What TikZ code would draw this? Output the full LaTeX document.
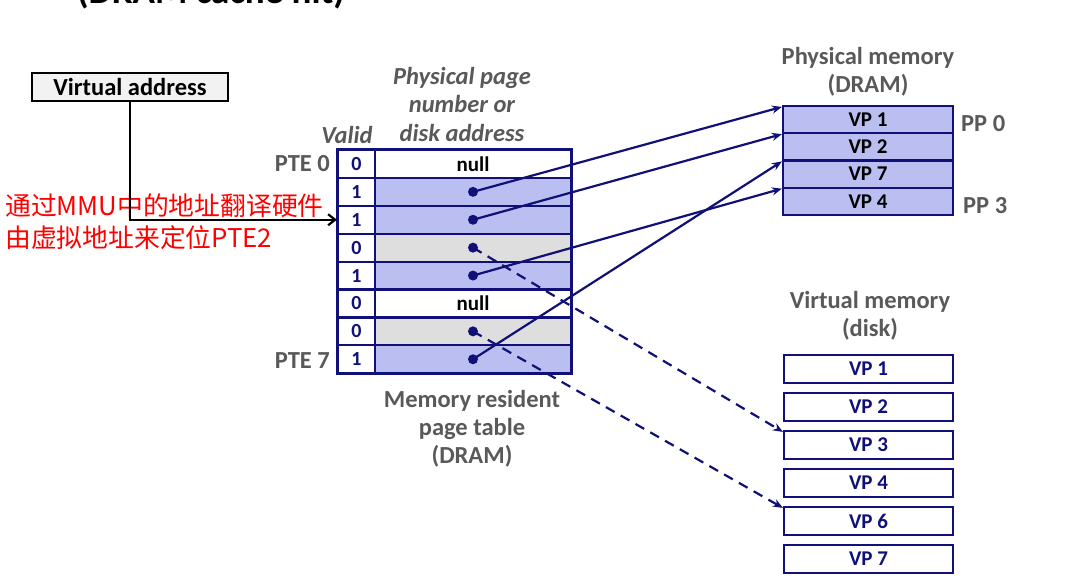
\documentclass[tikz,border=0pt]{standalone}
\usepackage{fontspec}
\setmainfont{Carlito}
\newfontfamily\cjk{Noto Sans CJK SC}
\usetikzlibrary{arrows.meta}
\definecolor{navy}{RGB}{16,16,120}
\definecolor{lav}{RGB}{187,190,240}
\definecolor{lgray}{RGB}{222,222,222}
\definecolor{tgray}{RGB}{89,89,89}
\definecolor{vafill}{RGB}{242,242,242}
\tikzset{
  cell/.style={draw=navy,line width=2.2pt,rectangle,inner sep=0pt,anchor=center},
  vcell/.style={cell,fill=white,minimum width=37pt,minimum height=27.9pt,text=navy,font=\fontsize{20}{20}\selectfont\bfseries},
  dcell/.style={cell,minimum width=196pt,minimum height=27.9pt,font=\fontsize{21}{21}\selectfont\bfseries},
  pmcell/.style={cell,fill=lav,minimum width=170pt,minimum height=27.25pt,font=\fontsize{21}{21}\selectfont\bfseries},
  dkcell/.style={cell,fill=white,minimum width=169pt,minimum height=28pt,text=navy,font=\fontsize{21}{21}\selectfont\bfseries},
  glabel/.style={text=tgray,font=\fontsize{24.5}{28}\selectfont\bfseries,align=center,inner sep=0pt},
  ilabel/.style={glabel,font=\fontsize{24.5}{28.5}\selectfont\bfseries\itshape},
  pdot/.style={circle,fill=navy,inner sep=0pt,minimum size=10pt},
  conn/.style={navy,line width=2.2pt,-{Stealth[length=10pt,width=8pt]}},
  dconn/.style={conn,dash pattern=on 10pt off 7pt},
}
\begin{document}
\begin{tikzpicture}[x=1pt,y=-1pt]
\useasboundingbox[fill=white] (0,0) rectangle (1082,583);
% cut-off title
\node[anchor=base,font=\fontsize{37}{37}\selectfont\bfseries,inner sep=0pt] (title) at (211,4) {(DRAM cache hit)};
% virtual address box
\node[draw=black,line width=1.8pt,fill=vafill,minimum width=196pt,minimum height=28pt,inner sep=0pt,font=\fontsize{24.5}{24.5}\selectfont\bfseries] (va) at (130,87) {Virtual address};
% red annotation
\node[anchor=west,text=red,font=\cjk\fontsize{25.8}{32}\selectfont,align=left,inner sep=0pt] (note) at (5,222) {通过MMU中的地址翻译硬件\\由虚拟地址来定位PTE2};
% page table
\foreach \i/\v/\f in {0/0/white,1/1/lav,2/1/lav,3/0/lgray,4/1/lav,5/0/white,6/0/lgray,7/1/lav}{
  \node[vcell] (v\i) at (356.5,{150+27.9*(\i+0.5)}) {\v};
  \node[dcell,fill=\f] (d\i) at (473,{150+27.9*(\i+0.5)}) {};
}
\draw[navy,line width=2.2pt] (v0.north west) rectangle (d7.south east);
\node[font=\fontsize{21}{21}\selectfont\bfseries] (n0) at (d0) {null};
\node[font=\fontsize{21}{21}\selectfont\bfseries] (n5) at (d5) {null};
\foreach \i in {1,2,3,4,6,7}{
  \node[pdot] (p\i) at (d\i) {};
}
% arrow from virtual address
\draw[black,line width=2.2pt,-{Straight Barb[length=7pt,width=11pt]}] (va.south) |- (v2.west);
% labels around table
\node[glabel,anchor=east] (pte0) at (330,164) {PTE 0};
\node[glabel,anchor=east] (pte7) at (330,361) {PTE 7};
\node[ilabel] (valid) at (347,135) {Valid};
\node[ilabel] (ppn) at (462,104) {Physical page\\number or\\disk address};
\node[glabel] (mrpt) at (472,429) {Memory resident\\page table\\(DRAM)};
% physical memory
\node[glabel] (pmt) at (868,72) {Physical memory\\(DRAM)};
\foreach \i/\t in {1/VP 1,2/VP 2,3/VP 7,4/VP 4}{
  \node[pmcell] (pm\i) at (868,{106+27.25*(\i-0.5)}) {\t};
}
\node[glabel,anchor=west] (pp0) at (961,124) {PP 0};
\node[glabel,anchor=west] (pp3) at (963,206) {PP 3};
% virtual memory
\node[glabel] (vmt) at (870,316) {Virtual memory\\(disk)};
\foreach \i/\t in {1/VP 1,2/VP 2,3/VP 3,4/VP 4,5/VP 6,6/VP 7}{
  \node[dkcell] (vm\i) at (868.5,{369+38*(\i-1)}) {\t};
}
% connectors
\draw[conn] (p1.center) -- ([yshift=-2pt]pm1.north west);
\draw[conn] (p2.center) -- ([yshift=-2pt]pm2.north west);
\draw[conn] (p7.center) -- ([yshift=-2pt]pm3.north west);
\draw[conn] (p4.center) -- ([yshift=-2pt]pm4.north west);
\draw[dconn] (p3.center) -- ([yshift=-2pt]vm3.north west);
\draw[dconn] (p6.center) -- ([yshift=-2pt]vm5.north west);
\end{tikzpicture}
\end{document}
